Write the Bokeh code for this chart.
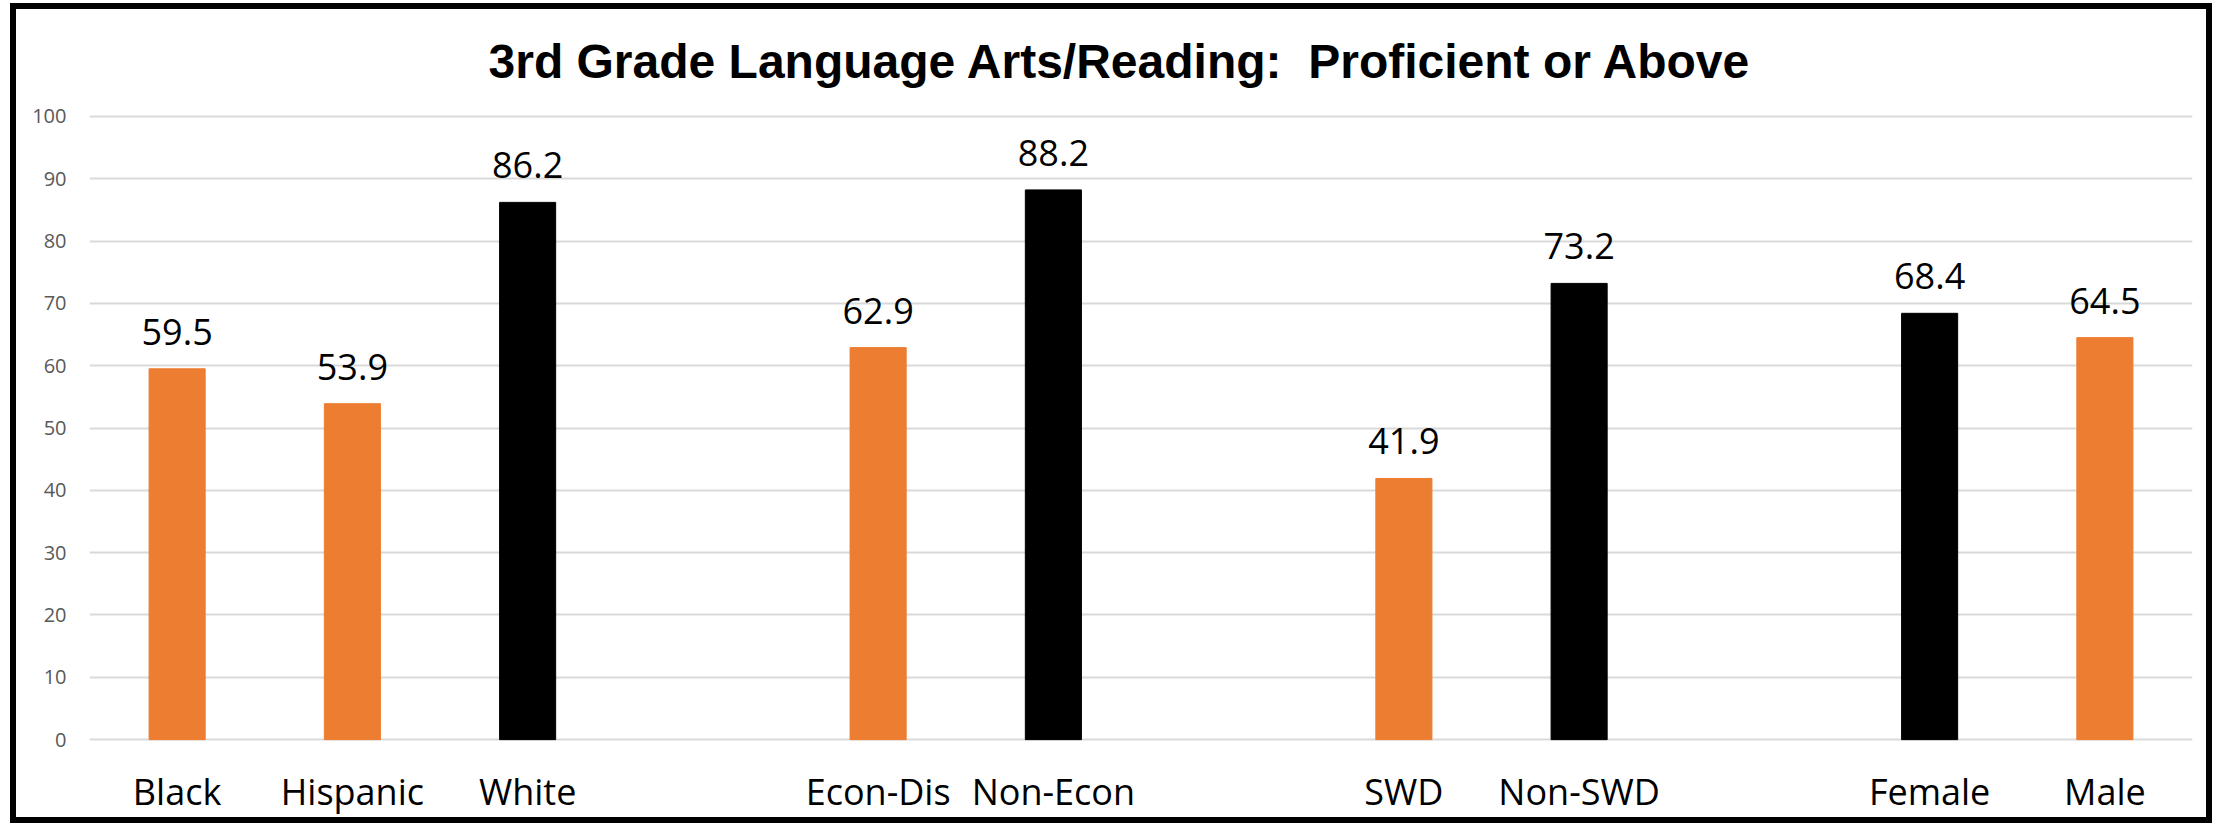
from bokeh.plotting import figure
from bokeh.models import FactorRange, Range1d, ColumnDataSource, SingleIntervalTicker
from bokeh.core.properties import value
from bokeh.embed import file_html
from bokeh.resources import INLINE

# ---- data ----
title_text = "3rd Grade Language Arts/Reading:\u00a0 Proficient or Above"
group_race = ["Black", "Hispanic", "White"]
group_econ = ["Econ-Dis", "Non-Econ"]
group_swd = ["SWD", "Non-SWD"]
group_gender = ["Female", "Male"]
categories = group_race + group_econ + group_swd + group_gender
proficient = [59.5, 53.9, 86.2, 62.9, 88.2, 41.9, 73.2, 68.4, 64.5]
focus_group = [True, True, False, True, False, True, False, False, True]
y_ticks_interval = 10

# ---- styling ----
ORANGE = "#ED7D31"
BLACK = "#000000"

groups = [group_race, group_econ, group_swd, group_gender]
factors = []
for i, g in enumerate(groups):
    if i > 0:
        factors.append(" " * i)  # empty spacer slot between groups
    factors.extend(g)

src = ColumnDataSource(dict(
    cat=categories,
    val=proficient,
    label=[f"{v:.1f}" for v in proficient],
    color=[ORANGE if f else BLACK for f in focus_group],
))

p = figure(
    x_range=FactorRange(*factors), y_range=Range1d(-0.3, 100.3),
    width=2202, height=820,
    output_backend="svg", toolbar_location=None,
    min_border_left=73, min_border_right=26,
    min_border_top=105, min_border_bottom=88,
)
p.margin = (3, 0, 0, 10)
p.styles = {"border": "6px solid black"}
p.outline_line_color = None
p.background_fill_color = "white"
p.border_fill_color = "white"

p.title.text = title_text
p.title.align = "left"
p.title.offset = 399
p.title.vertical_align = "top"
p.title.text_font = "Liberation Sans"
p.title.text_font_style = "bold"
p.title.text_font_size = "48px"
p.title.text_color = "black"
p.title.standoff = 50

p.vbar(x="cat", top="val", bottom=0, width=0.32, color="color", source=src)
p.text(x="cat", y="val", text="label", source=src,
       text_font=value("Open Sans"), text_font_size="36px",
       text_align="center", text_baseline="alphabetic",
       y_offset=-37, text_color="black")

p.xgrid.grid_line_color = None
p.ygrid.grid_line_color = "#D9D9D9"
p.ygrid.grid_line_width = 2
p.yaxis.ticker = SingleIntervalTicker(interval=y_ticks_interval, num_minor_ticks=0)

for ax in (p.xaxis[0], p.yaxis[0]):
    ax.axis_line_color = None
    ax.major_tick_line_color = None
    ax.minor_tick_line_color = None
    ax.major_tick_out = 0
    ax.major_tick_in = 0
    ax.major_label_text_font = "Open Sans"

p.yaxis.major_label_text_font_size = "20px"
p.yaxis.major_label_text_color = "#595959"
p.yaxis.major_label_standoff = 23

p.xaxis.major_label_text_font_size = "36px"
p.xaxis.major_label_text_color = "black"
p.xaxis.major_label_standoff = 25

open("out.html", "w").write(file_html(p, INLINE))
